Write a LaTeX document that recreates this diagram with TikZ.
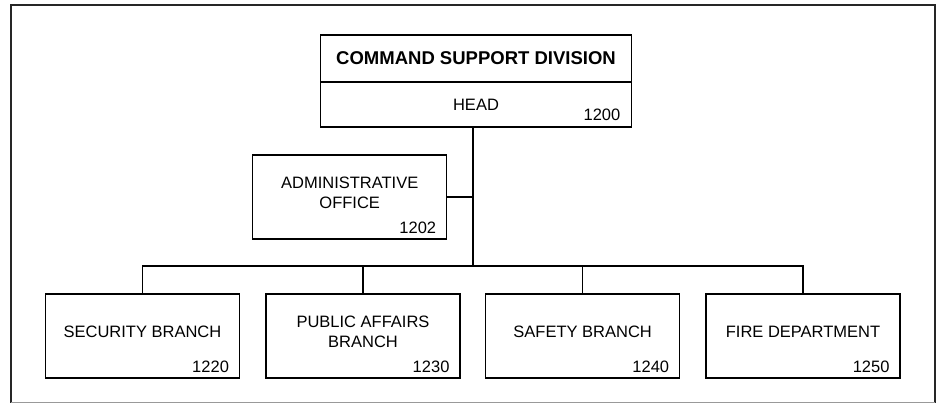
\documentclass[tikz,border=0pt]{standalone}
\usepackage{fontspec}
\setmainfont{Liberation Sans}
\usetikzlibrary{positioning}
\tikzset{
    unit/.style={
    rectangle,draw=black,line width=1.3pt,minimum width=194pt,minimum height=84pt,
    inner sep=0pt,align=center,text depth=9pt,font=\fontsize{16.5}{19.5}\selectfont
    },
    divbox/.style={
    rectangle,draw=black,line width=1.3pt,minimum width=311pt,outer sep=0pt,
    inner sep=0pt,align=center
    },
    num/.style={
    anchor=base east,inner sep=0pt,font=\fontsize{16.5}{19.5}\selectfont
    },
  line/.style={draw, line width=1.3pt},
  frame/.style={draw=black!85, line cap=rect},
}

\begin{document}
\begin{tikzpicture}[x=1pt, y=-1pt]
   \useasboundingbox (0,0) rectangle (937,404);

   % outer frame
   \draw[frame, line width=2.6pt] (11,402) -- (11,5) -- (935,5);
   \draw[frame, line width=1.6pt] (935,5) -- (935,402);
   \draw[draw=black!40, line width=0.9pt] (11,402) -- (935,402);

   % division
   \node[divbox, minimum height=47pt, font=\bfseries\fontsize{18.5}{22}\selectfont] (csd) at (476,58.5) {COMMAND SUPPORT DIVISION};
   \node[divbox, minimum height=45pt, below=0pt of csd, font=\fontsize{16.5}{19.5}\selectfont] (head) {HEAD};
   \node[num] (headnum) at ([xshift=-11pt,yshift=6.5pt]head.south east) {1200};

   \node[unit] (admin) at (349.7,197) {ADMINISTRATIVE\\OFFICE};
   \node[num] (adminnum) at ([xshift=-11pt,yshift=6.5pt]admin.south east) {1202};

   % branches
   \node[unit] (sec)  at (142.5,336) {SECURITY BRANCH};
   \node[unit] (pub)  at (363,336)   {PUBLIC AFFAIRS\\BRANCH};
   \node[unit] (safe) at (582.7,336) {SAFETY BRANCH};
   \node[unit] (fire) at (803,336)   {FIRE DEPARTMENT};
   \node[num] (secnum)  at ([xshift=-11pt,yshift=6.5pt]sec.south east)  {1220};
   \node[num] (pubnum)  at ([xshift=-11pt,yshift=6.5pt]pub.south east)  {1230};
   \node[num] (safenum) at ([xshift=-11pt,yshift=6.5pt]safe.south east) {1240};
   \node[num] (firenum) at ([xshift=-11pt,yshift=6.5pt]fire.south east) {1250};

   \coordinate (trunk) at (473,266);

  \path[line]
    (head.south -| trunk) edge (trunk)
    (admin.east) edge (admin.east -| trunk)
    (pub.north)  edge (pub.north |- trunk)
    (safe.north) edge (safe.north |- trunk);
  \draw[line] (sec.north) |- (trunk) -| (fire.north);
  \end{tikzpicture}
\end{document}
